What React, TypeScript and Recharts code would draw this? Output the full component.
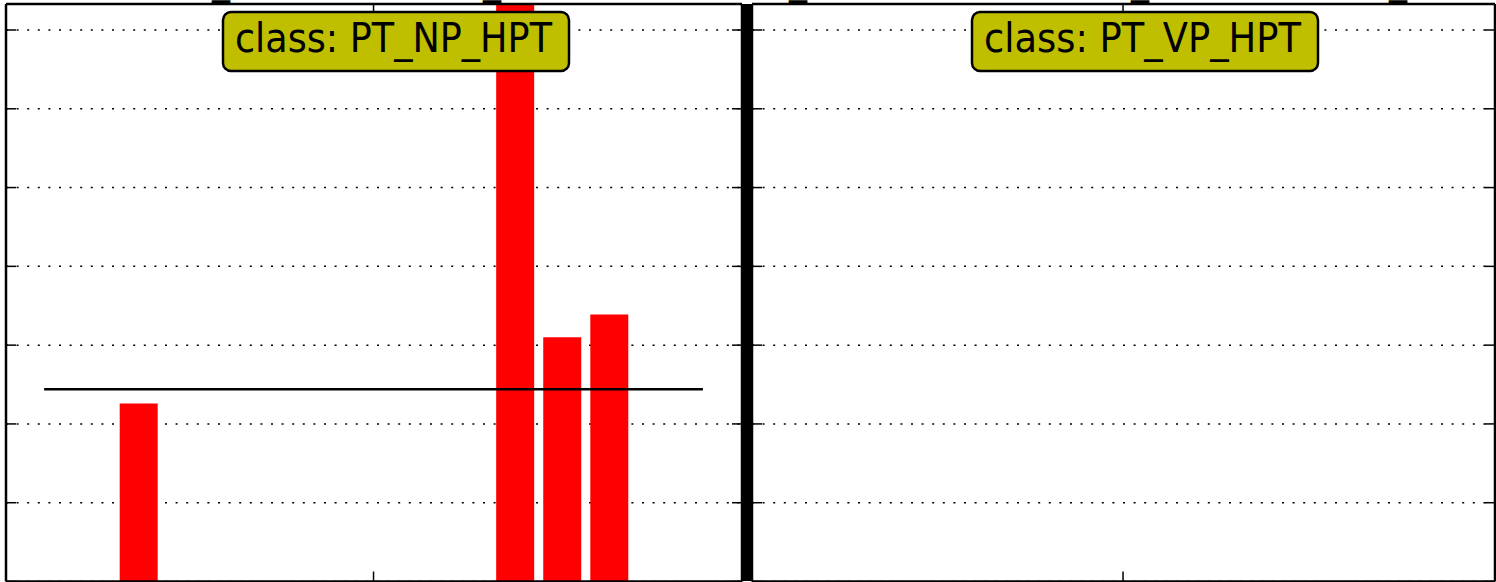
import React from "react";
import {
  ComposedChart,
  Bar,
  XAxis,
  YAxis,
  CartesianGrid,
  ReferenceLine,
} from "recharts";

// bin positions along x (0..14)
const positions = [0, 1, 2, 3, 4, 5, 6, 7, 8, 9, 10, 11, 12, 13, 14];
const npHptValues = [0, 0, 2.26, 0, 0, 0, 0, 0, 0, 0, 7.6, 3.1, 3.39, 0, 0];
const vpHptValues = [0, 0, 0, 0, 0, 0, 0, 0, 0, 0, 0, 0, 0, 0, 0];
const npHptMean = 2.44;
const yTicks = [0, 1, 2, 3, 4, 5, 6, 7];
const xTicks = [7];
const yDomain = [0, 7.33];
const xDomain = [-0.81, 14.83];

const classNames = ["PT_NP_HPT", "PT_VP_HPT"];
// cut-off labels from above the plot; only their underscores peek in
const topFragments = [212, 483, 789, 1131, 1389];

const axisLine = { stroke: "#000", strokeWidth: 2.5 };
const tickLine = { stroke: "#000", strokeWidth: 1.5 };
const noLabel = () => "";

function Panel({
  values,
  mean,
  left,
  margin,
}: {
  values: number[];
  mean?: number;
  left: number;
  margin: { top: number; right: number; bottom: number; left: number };
}) {
  const data = positions.map((x, i) => ({ x, v: values[i] }));
  return (
    <div style={{ position: "absolute", left, top: 0 }}>
      <ComposedChart width={748} height={582} data={data} margin={margin}>
        <CartesianGrid
          vertical={false}
          stroke="#000"
          strokeWidth={1.5}
          strokeDasharray="2 8.6"
        />
        <XAxis
          dataKey="x"
          type="number"
          domain={xDomain}
          ticks={xTicks}
          allowDataOverflow
          height={1}
          mirror
          tickFormatter={noLabel}
          tickSize={10}
          axisLine={axisLine}
          tickLine={tickLine}
        />
        <XAxis
          xAxisId="t"
          dataKey="x"
          type="number"
          orientation="top"
          domain={xDomain}
          ticks={xTicks}
          allowDataOverflow
          height={1}
          mirror
          tickFormatter={noLabel}
          tickSize={10}
          axisLine={axisLine}
          tickLine={tickLine}
        />
        <YAxis
          type="number"
          domain={yDomain}
          ticks={yTicks}
          allowDataOverflow
          width={1}
          mirror
          tickFormatter={noLabel}
          tickSize={10}
          axisLine={axisLine}
          tickLine={tickLine}
        />
        <YAxis
          yAxisId="r"
          orientation="right"
          type="number"
          domain={yDomain}
          ticks={yTicks}
          allowDataOverflow
          width={1}
          mirror
          tickFormatter={noLabel}
          tickSize={10}
          axisLine={axisLine}
          tickLine={tickLine}
        />
        <Bar dataKey="v" fill="#ff0000" barSize={38} isAnimationActive={false} />
        {mean !== undefined && (
          <ReferenceLine
            segment={[
              { x: 0, y: mean },
              { x: 14, y: mean },
            ]}
            stroke="#000"
            strokeWidth={2.5}
          />
        )}
      </ComposedChart>
    </div>
  );
}

function ClassBox({ x, label }: { x: number; label: string }) {
  return (
    <g>
      <rect
        x={x}
        y={12}
        width={346}
        height={59}
        rx={8}
        fill="#bfbf00"
        stroke="#000"
        strokeWidth={2.5}
      />
      <text
        x={x + 12}
        y={52}
        fontFamily="DejaVu Sans"
        fontSize={40}
        fill="#000"
        textLength={317}
        lengthAdjust="spacingAndGlyphs"
      >
        class: {label}
      </text>
    </g>
  );
}

export default function App() {
  return (
    <div
      style={{
        position: "absolute",
        left: 0,
        top: 0,
        width: 1496,
        height: 582,
        background: "#fff",
        overflow: "hidden",
      }}
    >
      <Panel
        values={npHptValues}
        mean={npHptMean}
        left={0}
        margin={{ top: 4, right: 6, bottom: 0.5, left: 6 }}
      />
      <Panel
        values={vpHptValues}
        left={748}
        margin={{ top: 4, right: 1, bottom: 0.5, left: 4 }}
      />
      <svg
        width={1496}
        height={582}
        style={{ position: "absolute", left: 0, top: 0, pointerEvents: "none" }}
      >
        <rect x={741} y={4} width={12} height={577} fill="#000" />
        {topFragments.map((fx) => (
          <text
            key={fx}
            x={fx}
            y={-7.4}
            fontFamily="DejaVu Sans"
            fontSize={40}
            fill="#000"
            textLength={18}
            lengthAdjust="spacingAndGlyphs"
          >
            _
          </text>
        ))}
        <ClassBox x={223} label={classNames[0]} />
        <ClassBox x={972} label={classNames[1]} />
      </svg>
    </div>
  );
}
